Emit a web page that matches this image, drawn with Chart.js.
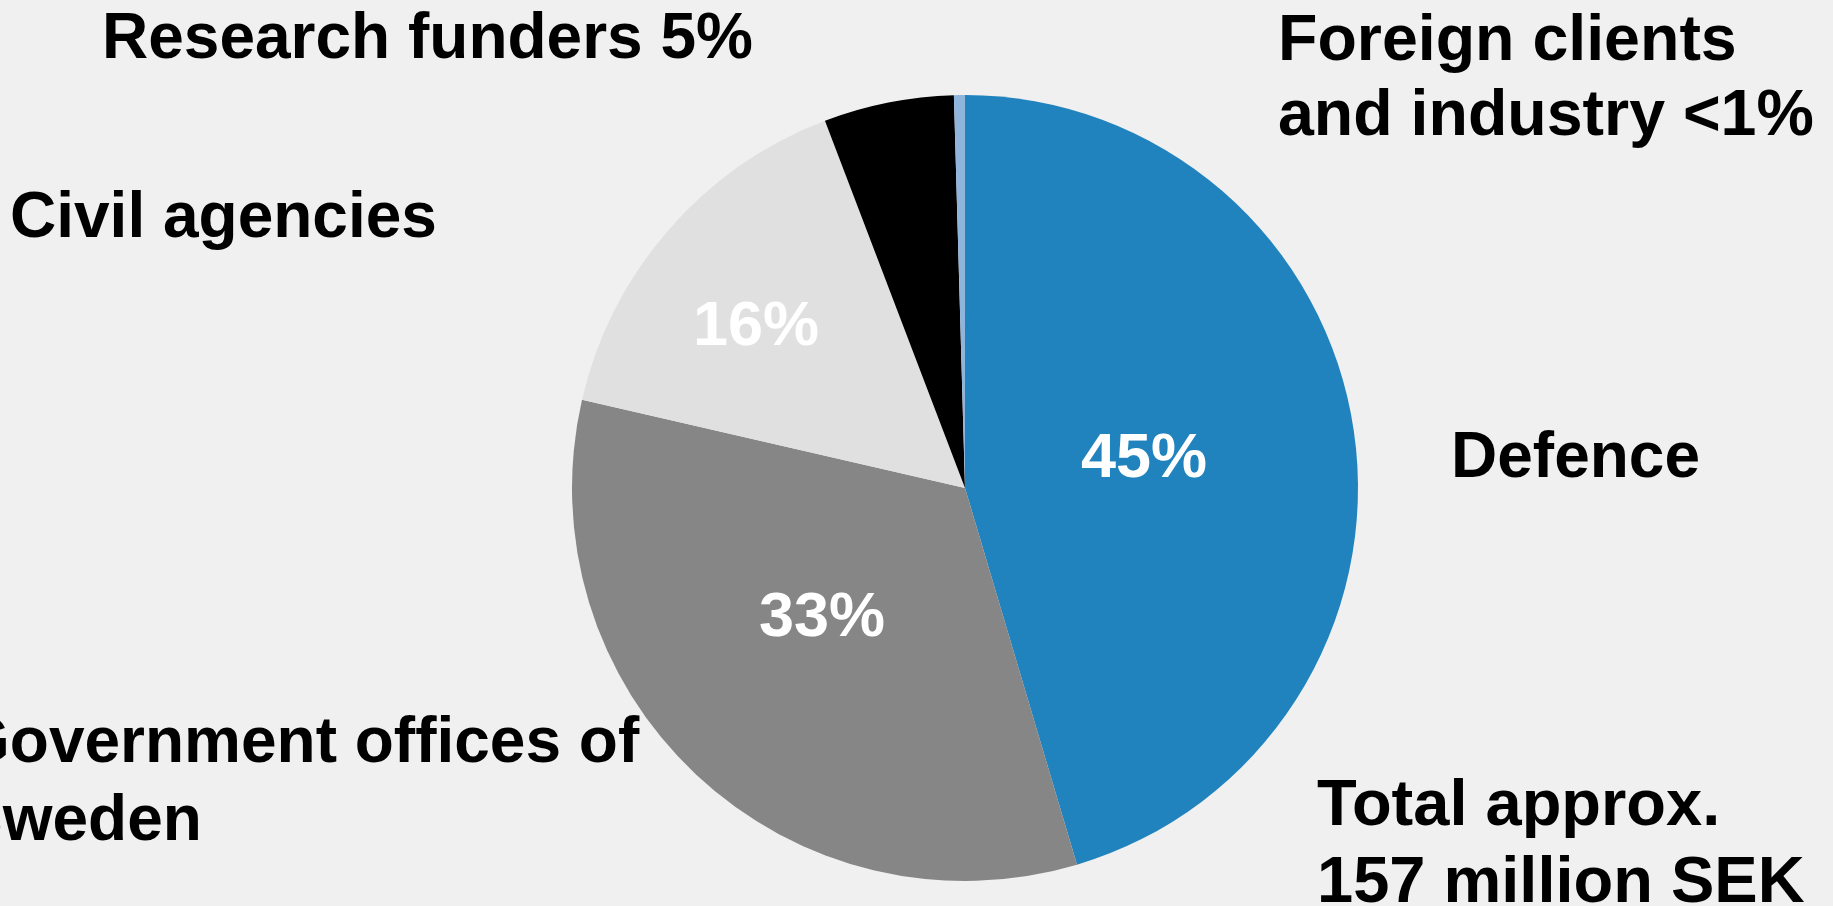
<!DOCTYPE html>
<html>
<head>
<meta charset="utf-8">
<script src="https://cdn.jsdelivr.net/npm/chart.js@4/dist/chart.umd.min.js"></script>
<style>
  html, body { margin: 0; padding: 0; background: #f0f0f0; overflow: hidden; }
  #wrap { width: 1833px; height: 906px; position: relative; }
</style>
</head>
<body>
<div id="wrap"><canvas id="c" width="1833" height="906"></canvas></div>
<script>
// ---- data ----
const categories = ["Defence", "Government offices of Sweden", "Civil agencies", "Research funders", "Foreign clients and industry"];
const shares = [45.4, 33.2, 15.6, 5.35, 0.45];
const sliceColors = ["#2083bd", "#868686", "#e0e0e0", "#000000", "#8fb5dd"];
const insideLabels = ["45%", "33%", "16%", "", ""];
const outsideLabels = [
  ["Defence"],
  ["Government offices of", "Sweden"],
  ["Civil agencies"],
  ["Research funders 5%"],
  ["Foreign clients", "and industry <1%"]
];
const totalNote = ["Total approx.", "157 million SEK"];

const FAMILY = '"Liberation Sans", Arial, sans-serif';

const textPlugin = {
  id: 'pieText',
  afterDraw(chart, args, opts) {
    const ctx = chart.ctx;
    const meta = chart.getDatasetMeta(0);
    const cx = meta.data[0].x, cy = meta.data[0].y;
    ctx.save();
    ctx.textBaseline = 'alphabetic';
    // inside percentages
    ctx.font = 'bold 63px ' + FAMILY;
    ctx.fillStyle = '#ffffff';
    ctx.textAlign = 'center';
    insideLabels.forEach((t, i) => {
      if (!t) return;
      const o = opts.inside[i];
      ctx.fillText(t, cx + o[0], cy + o[1]);
    });
    // outside labels
    ctx.fillStyle = '#000000';
    ctx.textAlign = 'left';
    outsideLabels.forEach((lines, i) => {
      const p = opts.outside[i];
      ctx.font = 'bold ' + p[2] + 'px ' + FAMILY;
      lines.forEach((ln, k) => ctx.fillText(ln, p[0], p[1] + k * p[3]));
    });
    const t = opts.total;
    ctx.font = 'bold ' + t[2] + 'px ' + FAMILY;
    totalNote.forEach((ln, k) => ctx.fillText(ln, t[0], t[1] + k * t[3]));
    ctx.restore();
  }
};

new Chart(document.getElementById('c'), {
  type: 'pie',
  data: {
    labels: categories,
    datasets: [{
      data: shares,
      backgroundColor: sliceColors,
      borderWidth: 0
    }]
  },
  options: {
    responsive: false,
    animation: false,
    layout: { padding: { top: 95, bottom: 25, left: 572, right: 475 } },
    plugins: {
      legend: { display: false },
      tooltip: { enabled: false },
      pieText: {
        inside: [[179, -11], [-143, 148], [-209, -143], [0, 0], [0, 0]],
        // [x, baseline, fontSize, lineStep]
        outside: [[1451, 477, 64, 0], [-40, 762, 64, 78], [10, 237, 64, 0], [102, 57.5, 64, 0], [1278, 60, 64.5, 75]],
        total: [1317, 825, 65, 77]
      }
    }
  },
  plugins: [{
    id: 'bg',
    beforeDraw(chart) {
      const ctx = chart.ctx;
      ctx.save();
      ctx.fillStyle = '#f0f0f0';
      ctx.fillRect(0, 0, chart.width, chart.height);
      ctx.restore();
    }
  }, textPlugin]
});
</script>
</body>
</html>
